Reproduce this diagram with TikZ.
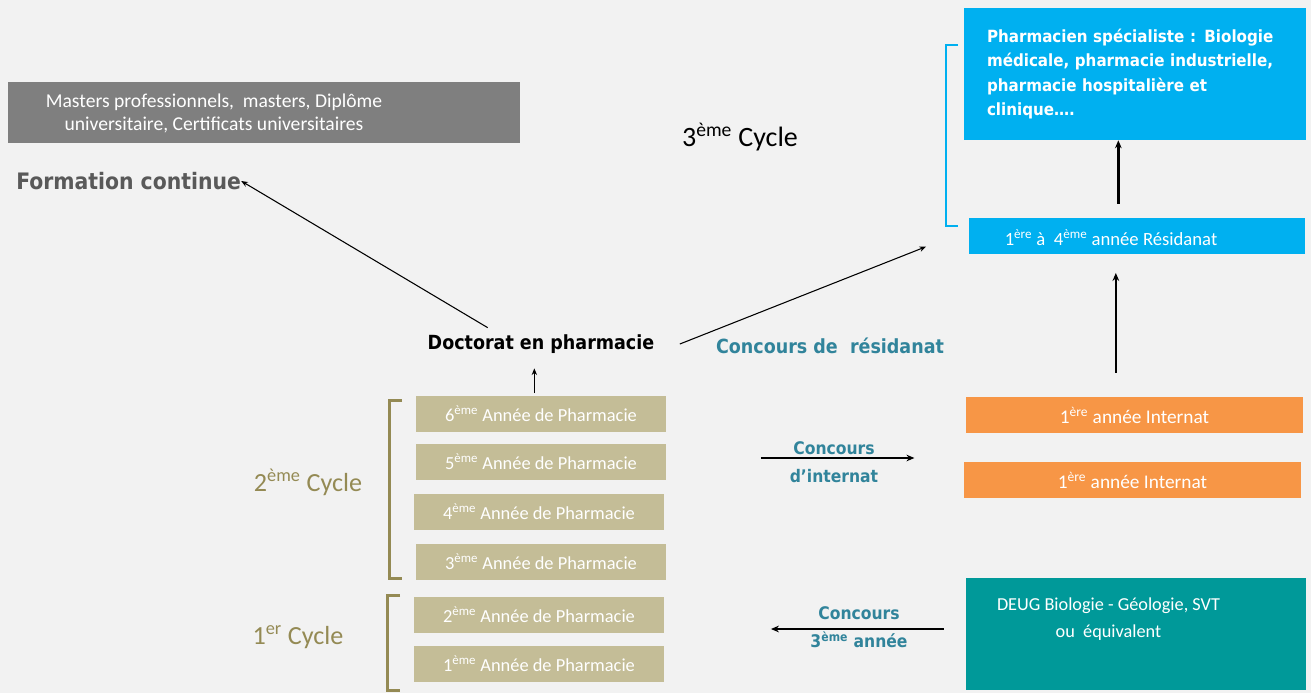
\documentclass[tikz,border=0pt]{standalone}
\usepackage{fontspec}
\setmainfont{Carlito}
\newfontfamily\titlefont{DejaVu Sans Condensed}
\usetikzlibrary{arrows.meta}
\definecolor{bg}{HTML}{F2F2F2}
\definecolor{mastergray}{HTML}{7F7F7F}
\definecolor{formgray}{HTML}{595959}
\definecolor{speblue}{HTML}{00B0F0}
\definecolor{tan}{HTML}{C4BD97}
\definecolor{olive}{HTML}{948A54}
\definecolor{internat}{HTML}{F79646}
\definecolor{concours}{HTML}{31849B}
\definecolor{deug}{HTML}{009999}
\newcommand{\expo}[1]{\textsuperscript{#1}}

\begin{document}
\begin{tikzpicture}[x=0.75pt,y=-0.75pt]
\tikzstyle{every node}=[inner sep=0pt]
\tikzstyle{tanbox}=[fill=tan, text=white, minimum width=187.5pt, minimum height=27pt, font=\fontsize{13.8}{15}\selectfont]
\tikzstyle{orangebox}=[fill=internat, text=white, minimum width=252.75pt, minimum height=27pt, font=\fontsize{14.5}{15}\selectfont]
\tikzstyle{cycle}=[text=olive, font=\fontsize{19.6}{20}\selectfont]
\tikzstyle{conc}=[text=concours, align=center, font=\titlefont\bfseries\fontsize{13}{21}\selectfont]
\tikzstyle{thin}=[-{Stealth[length=5pt,width=4pt]}, line width=0.8pt]
\tikzstyle{thick}=[-{Stealth[length=6pt,width=5pt]}, line width=2pt]
    \fill[bg] (0,0) rectangle (1311,693);
    \useasboundingbox (0,0) rectangle (1311,693);

    % formation continue
    \node[fill=mastergray, minimum width=384pt, minimum height=45.75pt] (masters) at (264,112.5) {};
    \node[text=white, align=center, font=\fontsize{14.7}{17.25}\selectfont] (masterstxt) at (214,113)
        {Masters professionnels,~~masters, Diplôme\\universitaire, Certificats universitaires};
    \node[anchor=west, text=formgray, font=\titlefont\bfseries\fontsize{17}{19}\selectfont] (formation) at (16,181) {Formation continue};

    % 3eme cycle
    \node[font=\fontsize{21}{22}\selectfont] (cyc3) at (740,137) {3\expo{ème} Cycle};
    \node[fill=speblue, minimum width=256.5pt, minimum height=99pt, text width=222pt, inner xsep=17.25pt,
          align=left, text=white, font=\titlefont\bfseries\fontsize{12.6}{18.4}\selectfont] (spec) at (1135,74)
        {Pharmacien spécialiste : Biologie\\médicale, pharmacie industrielle,\\pharmacie hospitalière et\\clinique….};
    \node[fill=speblue, minimum width=252pt, minimum height=27pt] (resid) at (1137,236) {};
    \node[text=white, font=\fontsize{14}{15}\selectfont] (residtxt) at (1111,238) {1\expo{ère} à~~4\expo{ème} année Résidanat};
    \draw[speblue, line width=1.5pt] (958,45) -- (946,45) -- (946,226) -- (958,226);

    \node[font=\titlefont\bfseries\fontsize{14.6}{16}\selectfont] (doctorat) at (541,344) {Doctorat en pharmacie};
    \node[conc, font=\titlefont\bfseries\fontsize{14.6}{16}\selectfont] (concres) at (830,346) {Concours de~~résidanat};

    % 2eme et 1er cycle
    \node[tanbox] (y6) at (541,414) {6\expo{ème} Année de Pharmacie};
    \node[tanbox] (y5) at (541,462) {5\expo{ème} Année de Pharmacie};
    \node[tanbox] (y4) at (539,512) {4\expo{ème} Année de Pharmacie};
    \node[tanbox] (y3) at (541,562) {3\expo{ème} Année de Pharmacie};
    \node[tanbox] (y2) at (539,615) {2\expo{ème} Année de Pharmacie};
    \node[tanbox] (y1) at (539,664) {1\expo{ème} Année de Pharmacie};
    \node[cycle] (cyc2) at (308,482) {2\expo{ème}~Cycle};
    \node[cycle] (cyc1) at (298,637) {1\expo{er} Cycle};
    \draw[olive, line width=2.25pt] (402,400) -- (389,400) -- (389,578) -- (402,578);
    \draw[olive, line width=2.25pt] (400,595) -- (387,595) -- (387,690) -- (400,690);

    % internat
    \node[orangebox] (int1) at (1134.5,415) {1\expo{ère} année Internat};
    \node[orangebox] (int2) at (1132.5,480) {1\expo{ère} année Internat};
    \node[conc] (concint) at (834,462) {Concours\\d’internat};

    \node[fill=deug, minimum width=255pt, minimum height=84pt] (deugbox) at (1136,634) {};
    \node[text=white, align=center, font=\fontsize{13.7}{20}\selectfont] (deugtxt) at (1108.5,619)
        {DEUG Biologie - Géologie, SVT\\ou~~équivalent};
    \node[conc] (conc3) at (859,627) {Concours\\3\expo{ème} année};

    % fleches
    \draw[thin] ([xshift=-40pt,yshift=5pt]doctorat.north) -- (formation.east);
    \draw[thin] ([xshift=19pt]doctorat.east) -- ([xshift=-32pt,yshift=-8pt]resid.west);
    \draw[thin, shorten <=2pt, shorten >=11pt] ([xshift=-5pt]y6.north) -- ([xshift=-5pt]y6.north |- doctorat.south);
    \draw[thick, shorten <=10.5pt] ([xshift=-14pt]resid.north) -- ([xshift=-14pt]resid.north |- spec.south);
    \draw[thick, shorten <=18pt, shorten >=14pt] ([xshift=-14pt]int1.north) -- ([xshift=-14pt]int1.north |- resid.south);
    \draw[thick, line width=1.5pt, shorten <=71pt, shorten >=37pt] ([yshift=3pt]y5.east) -- ([yshift=3pt]y5.east -| int2.west);
    \draw[thick, line width=1.8pt, shorten <=16.5pt, shorten >=80pt] ([yshift=3.75pt]deugbox.west) -- ([yshift=3.75pt]deugbox.west -| y2.east);
\end{tikzpicture}
\end{document}
